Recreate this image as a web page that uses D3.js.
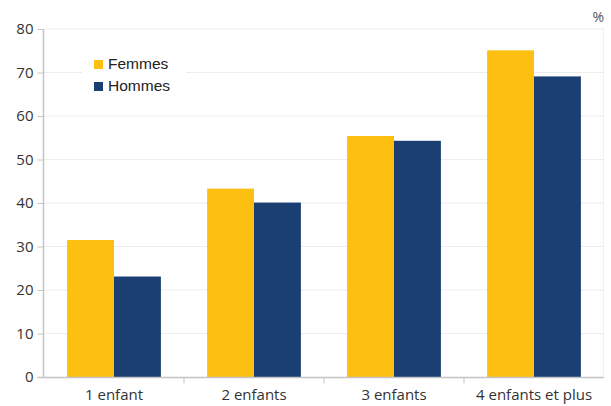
<!DOCTYPE html>
<html><head><meta charset="utf-8">
<script src="https://cdn.jsdelivr.net/npm/d3@7"></script>
<style>body{margin:0;background:#fff;}svg{display:block;}</style>
</head><body>
<svg id="c" width="611" height="406"></svg>
<script>
const categories = ["1 enfant", "2 enfants", "3 enfants", "4 enfants et plus"];
const seriesNames = ["Femmes", "Hommes"];
const femmes = [31.5, 43.3, 55.4, 75.1];
const hommes = [23.1, 40.1, 54.3, 69.1];
const yTicks = [0, 10, 20, 30, 40, 50, 60, 70, 80];
const colors = ["#FDC010", "#1B3F73"];

const svg = d3.select("#c");
const L = 44, R = 604, T = 29, B = 377;
const x = d3.scaleBand().domain(categories).range([L, R]).paddingInner(0.33).paddingOuter(0.165);
const xs = d3.scaleBand().domain(seriesNames).range([0, x.bandwidth()]);
const y = d3.scaleLinear().domain([0, 80]).range([B, T]);

// gridlines
svg.append("g").selectAll("line").data(yTicks.filter(d => d > 0)).join("line")
  .attr("x1", L).attr("x2", R).attr("y1", d => y(d)).attr("y2", d => y(d))
  .attr("stroke", "#ececec").attr("stroke-width", 1);
svg.append("line").attr("x1", R - 0.5).attr("x2", R - 0.5).attr("y1", T).attr("y2", B)
  .attr("stroke", "#f0f0f0");

// bars
const data = categories.map((c, i) => ({c, vals: [femmes[i], hommes[i]]}));
const g = svg.append("g").selectAll("g").data(data).join("g")
  .attr("transform", d => `translate(${x(d.c)},0)`);
g.selectAll("rect").data(d => d.vals.map((v, j) => ({s: seriesNames[j], v, j}))).join("rect")
  .attr("x", d => xs(d.s)).attr("width", xs.bandwidth())
  .attr("y", d => y(d.v)).attr("height", d => B - y(d.v))
  .attr("fill", d => colors[d.j]);

// y axis
const ya = svg.append("g").attr("transform", `translate(${L - 0.5},0)`)
  .call(d3.axisLeft(y).tickValues(yTicks).tickSize(6).tickPadding(4));
ya.select(".domain").attr("stroke", "#c4c4c4").attr("stroke-width", 1.5).attr("d", `M0,${T}V${B}`);
ya.selectAll(".tick line").attr("stroke", "#c4c4c4");
ya.selectAll(".tick text").attr("fill", "#333").style("font-family", "'Open Sans', sans-serif").style("font-size", "15px");

// x axis
const xa = svg.append("g").attr("transform", `translate(0,${B + 0.5})`)
  .call(d3.axisBottom(x).tickSize(0).tickPadding(12));
xa.select(".domain").attr("stroke", "#c4c4c4").attr("stroke-width", 1.5).attr("d", `M${L - 6},0H${R}`);
xa.selectAll(".tick text").attr("fill", "#333").style("font-family", "'Open Sans', sans-serif").style("font-size", "15px");
const step = x.step();
const edges = categories.slice(1).map(c => x(c) - x.paddingInner() * step / 2);
xa.selectAll(".sep").data(edges).join("line").attr("class", "sep")
  .attr("x1", d => d).attr("x2", d => d).attr("y1", 0).attr("y2", 6).attr("stroke", "#c4c4c4");

// percent label
svg.append("text").attr("x", 604).attr("y", 22).attr("text-anchor", "end")
  .attr("fill", "#555").style("font-family", "'Open Sans', sans-serif").style("font-size", "14px").text("%");

// legend
const lg = svg.append("g").attr("transform", "translate(82,50)");
lg.append("rect").attr("x", 0).attr("y", 0).attr("width", 104).attr("height", 48).attr("fill", "#fff");
seriesNames.forEach((s, i) => {
  lg.append("rect").attr("x", 12).attr("y", 10 + i * 22).attr("width", 9).attr("height", 9).attr("fill", colors[i]);
  lg.append("text").attr("x", 26).attr("y", 19 + i * 22).attr("fill", "#222")
    .style("font-family", "'Liberation Sans', Arial, sans-serif").style("font-size", "15.5px").text(s);
});
</script>
</body></html>
